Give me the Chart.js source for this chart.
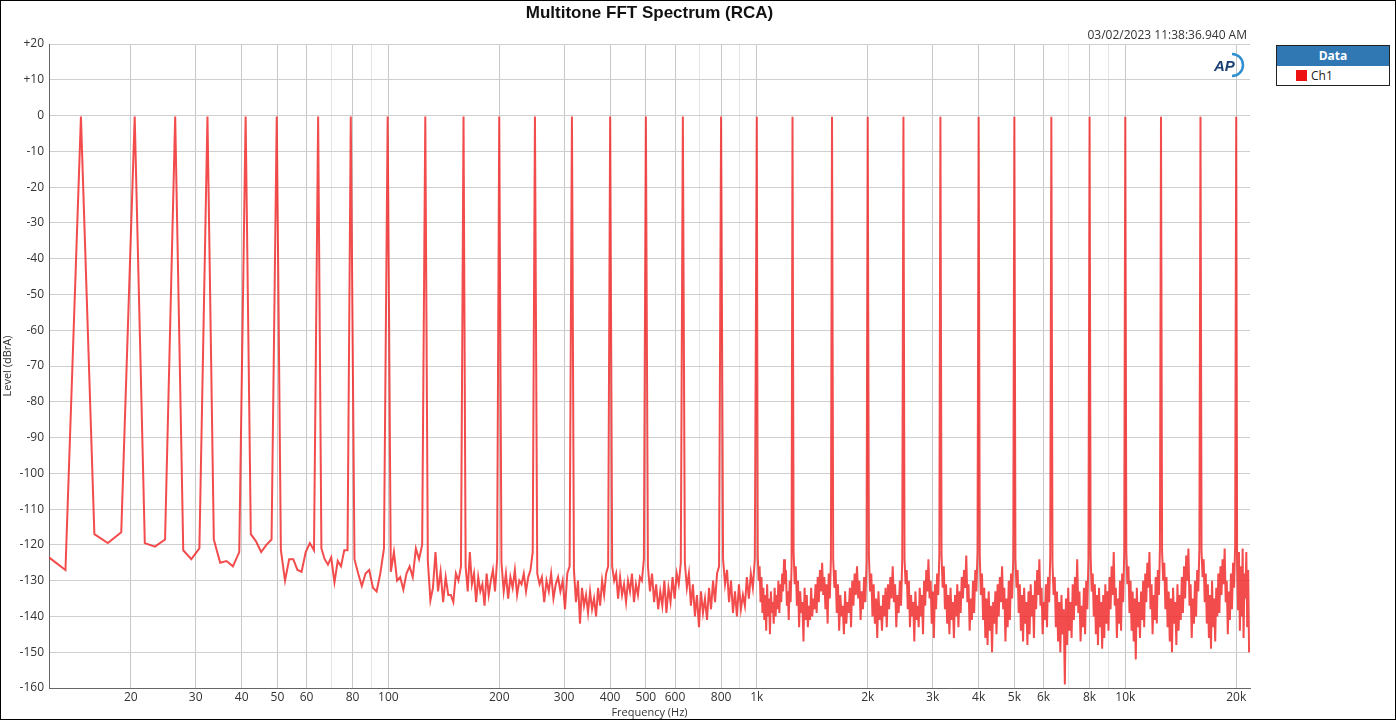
<!DOCTYPE html>
<html><head><meta charset="utf-8">
<script src="https://cdn.jsdelivr.net/npm/chart.js@4"></script>
<style>
html,body{margin:0;padding:0;background:#fff;}
#frame{position:absolute;left:0;top:0;width:1396px;height:720px;box-sizing:border-box;border:1px solid #000;overflow:hidden;font-family:"Open Sans",sans-serif;}
#title{position:absolute;left:48px;width:1201px;top:2px;text-align:center;font:bold 17px "Liberation Sans",Arial,sans-serif;color:#111;}
#date{position:absolute;right:148px;top:25px;font:12px "Open Sans",sans-serif;color:#333;}
#wrap{position:absolute;left:0;top:0;width:1262px;height:718px;}
#legend{position:absolute;left:1275px;top:44px;width:114px;height:41px;border:1px solid #222;box-sizing:border-box;background:#fff;}
#legend .h{background:#2f78b4;color:#fff;font:bold 12px "Open Sans",sans-serif;text-align:center;height:20px;line-height:20px;}
#legend .r{font:12px "Open Sans",sans-serif;color:#222;padding-left:19px;line-height:19px;}
#legend .sw{display:inline-block;width:11px;height:11px;background:#ee1111;vertical-align:-1px;margin-right:4px;}
#logo{position:absolute;left:1210px;top:50px;}
</style></head><body>
<div id="frame">
<div id="wrap"><canvas id="c"></canvas></div>
<div id="title">Multitone FFT Spectrum (RCA)</div>
<div id="date">03/02/2023 11:38:36.940 AM</div>
<svg id="logo" width="34" height="28" viewBox="0 0 34 28">
<text x="3" y="20" font-family="Liberation Sans,Arial" font-weight="bold" font-style="italic" font-size="15" fill="#1a3f73">AP</text>
<path d="M21 3 A11 11 0 0 1 21 25" stroke="#2f8fd0" stroke-width="2.5" fill="none"/>
</svg>
<div id="legend"><div class="h">Data</div><div class="r"><span class="sw"></span>Ch1</div></div>
</div>
<script>
const toneFreqs=[14.65,20.5,26.4,32.3,41.0,49.8,64.5,79.1,99.6,126,160,200,250,315,400,500,630,800,1000,1250,1600,2000,2500,3150,4000,5000,6300,8000,10000,12500,16000,20000];
const toneLevels=[-0.3,-0.3,-0.3,-0.3,-0.3,-0.3,-0.3,-0.3,-0.3,-0.3,-0.3,-0.3,-0.3,-0.3,-0.3,-0.3,-0.3,-0.3,-0.3,-0.3,-0.3,-0.3,-0.3,-0.3,-0.3,-0.3,-0.3,-0.3,-0.3,-0.3,-0.3,-0.3];
const leadFreqs=[12,13.3];
const leadLevels=[-123.5,-127];
const gapNoise=[
[-117,-119.5,-116.5],
[-119.5,-120.5,-118.5],
[-121.5,-124,-121],
[-118.5,-125,-124.5,-126,-122],
[-117,-119,-122,-120,-118.5],
[-121.5,-130,-124,-124,-127,-127.5,-122,-119.5,-121.5],
[-121,-124,-125.5,-123.5,-130.5,-124.5,-126,-121.5,-121.5],
[-124,-128,-131.5,-128,-127,-132,-133,-128,-121],
[-127.5,-122,-130,-129,-132.5,-128,-126,-129,-121,-124,-120],
[-124.5,-135.5,-132,-122,-133,-127.5,-136,-129,-134,-134,-136,-128,-130,-126],
[-126,-133,-122,-131,-128,-136,-129,-133,-131,-137,-128,-134,-130,-127,-133,-124],
[-125,-133,-128,-135,-129,-132,-127,-134,-130,-131,-128,-133,-129,-127,-122],
[-128,-131,-129,-136,-130,-133,-128,-135,-131,-129,-133,-130,-138,-128,-126],
[-127,-136,-130,-142,-132,-137,-134,-139,-133,-138,-135,-140,-132,-137,-130,-134,-128,-126],
[-126,-130,-128,-135,-129,-134,-131,-136,-130,-133,-128,-136,-131,-134,-129,-130,-124],
[-126,-133,-128,-136,-131,-138,-133,-137,-130,-139,-132,-136,-129,-135,-128,-131,-125],
[-125,-132,-128,-137,-131,-140,-134,-143,-133,-139,-135,-141,-132,-138,-130,-136,-128,-126],
[-124,-131,-127,-136,-130,-139,-133,-140,-131,-138,-134,-137,-129,-135,-128,-132,-124],
[-123,-130,-126,-136,-129,-139,-132,-141,-134,-144,-131,-140,-135,-145,-133,-139,-136,-142,-132,-140,-134,-138,-130,-139,-131,-136,-128,-133,-124,-131,-127,-137,-133,-141,-130,-136,-126],
[-122,-131,-126,-137,-130,-143,-133,-139,-136,-147,-132,-141,-134,-143,-137,-141,-132,-140,-135,-138,-131,-139,-129,-136,-127,-133,-125,-134,-129,-138,-131,-142,-128,-135,-124],
[-124,-132,-127,-139,-131,-144,-134,-140,-137,-145,-133,-142,-136,-139,-132,-143,-130,-137,-128,-134,-126,-135,-130,-141,-133,-138,-129,-136,-125],
[-123,-133,-128,-140,-131,-142,-135,-146,-133,-141,-137,-144,-134,-140,-132,-143,-131,-138,-129,-135,-126,-136,-131,-143,-134,-139,-130,-137,-124],
[-124,-131,-127,-138,-130,-143,-134,-140,-136,-147,-133,-141,-137,-143,-132,-140,-134,-145,-130,-137,-127,-133,-124,-135,-130,-142,-133,-146,-131,-138,-128,-134,-123],
[-123,-132,-126,-138,-131,-142,-134,-145,-132,-141,-136,-146,-134,-140,-131,-143,-133,-139,-129,-135,-127,-132,-123,-136,-131,-144,-135,-141,-130,-139,-127,-133,-122],
[-123,-134,-128,-141,-132,-146,-135,-148,-133,-144,-137,-150,-136,-142,-133,-145,-131,-140,-129,-136,-126,-138,-132,-147,-135,-143,-130,-141,-128,-135,-124],
[-124,-132,-127,-139,-131,-144,-134,-147,-132,-142,-136,-148,-133,-145,-131,-140,-134,-146,-130,-138,-127,-134,-124,-137,-132,-145,-136,-141,-131,-143,-129,-136,-123],
[-125,-134,-129,-143,-133,-147,-136,-150,-134,-145,-138,-159,-135,-148,-132,-144,-136,-146,-131,-141,-129,-137,-124,-139,-133,-147,-137,-143,-132,-145,-130,-138,-124],
[-123,-133,-128,-140,-131,-145,-134,-148,-132,-143,-136,-149,-134,-146,-131,-142,-133,-144,-129,-138,-126,-134,-122,-137,-132,-146,-135,-142,-130,-144,-128,-136,-122],
[-122,-131,-126,-139,-130,-144,-133,-147,-135,-152,-132,-143,-136,-146,-133,-141,-130,-143,-128,-136,-125,-132,-122,-138,-131,-145,-134,-141,-129,-142,-127,-134,-121],
[-122,-130,-125,-138,-129,-143,-133,-147,-135,-150,-132,-142,-136,-148,-131,-144,-134,-141,-129,-139,-126,-135,-123,-130,-121,-137,-131,-146,-135,-142,-130,-140,-127,-133,-121],
[-122,-129,-124,-136,-128,-142,-131,-146,-134,-149,-130,-143,-135,-147,-132,-140,-128,-139,-126,-134,-124,-131,-121,-136,-130,-145,-133,-141,-128,-138,-125,-132,-120]
];
const tailEnd=21800;
const tailNoise=[-124,-138,-122,-144,-126,-140,-121,-146,-128,-135,-122,-143,-127,-150];
const gridFreqs=[20,30,40,50,60,70,80,90,100,200,300,400,500,600,700,800,900,1000,2000,3000,4000,5000,6000,7000,8000,9000,10000,20000];
const xLabels={20:"20",30:"30",40:"40",50:"50",60:"60",80:"80",100:"100",200:"200",300:"300",400:"400",500:"500",600:"600",800:"800",1000:"1k",2000:"2k",3000:"3k",4000:"4k",5000:"5k",6000:"6k",8000:"8k",10000:"10k",20000:"20k"};
const yMin=-160,yMax=20,yStep=10;

function spread(f0,f1,vals,out){
  const a=Math.log(f0),b=Math.log(f1),n=vals.length;
  vals.forEach((v,k)=>out.push({x:Math.exp(a+(b-a)*(k+1)/(n+1)),y:v}));
}
const pts=[];
leadFreqs.forEach((f,i)=>pts.push({x:f,y:leadLevels[i]}));
toneFreqs.forEach((f,i)=>{
  pts.push({x:f,y:toneLevels[i]});
  if(i<gapNoise.length) spread(f,toneFreqs[i+1],gapNoise[i],pts);
});
spread(toneFreqs[toneFreqs.length-1],tailEnd,tailNoise,pts);

new Chart(document.getElementById('c'),{
  type:'line',
  data:{datasets:[{data:pts,borderColor:'rgba(240,45,45,0.85)',borderWidth:2,pointRadius:0,tension:0,fill:false}]},
  options:{
    responsive:true,maintainAspectRatio:false,animation:false,
    layout:{padding:{top:43,right:13,left:0,bottom:0}},
    plugins:{legend:{display:false},tooltip:{enabled:false}},
    scales:{
      x:{type:'logarithmic',min:12,max:21800,
        afterBuildTicks:s=>{s.ticks=gridFreqs.map(v=>({value:v}));},
        afterFit:s=>{s.height=31;},
        ticks:{autoSkip:false,maxRotation:0,padding:2,color:'#333',font:{family:'Open Sans',size:12},callback:v=>xLabels[v]||''},
        grid:{color:c=>{const v=c.tick&&c.tick.value;return (v && !xLabels[v])?'#e4e4e4':'#c8c8c8';},drawTicks:false},
        border:{color:'#666'},
        title:{display:true,text:'Frequency (Hz)',color:'#333',font:{family:'Open Sans',size:11},padding:{top:-4,bottom:0}}
      },
      y:{min:yMin,max:yMax,
        afterFit:s=>{s.width=48;},
        ticks:{stepSize:yStep,padding:5,color:'#333',font:{family:'Open Sans',size:12},callback:v=>v>0?'+'+v:String(v)},
        grid:{color:'#cfcfcf',drawTicks:false},
        border:{color:'#666'},
        title:{display:true,text:'Level (dBrA)',color:'#333',font:{family:'Open Sans',size:11},padding:{top:0,bottom:0}}
      }
    }
  }
});
</script>
</body></html>
